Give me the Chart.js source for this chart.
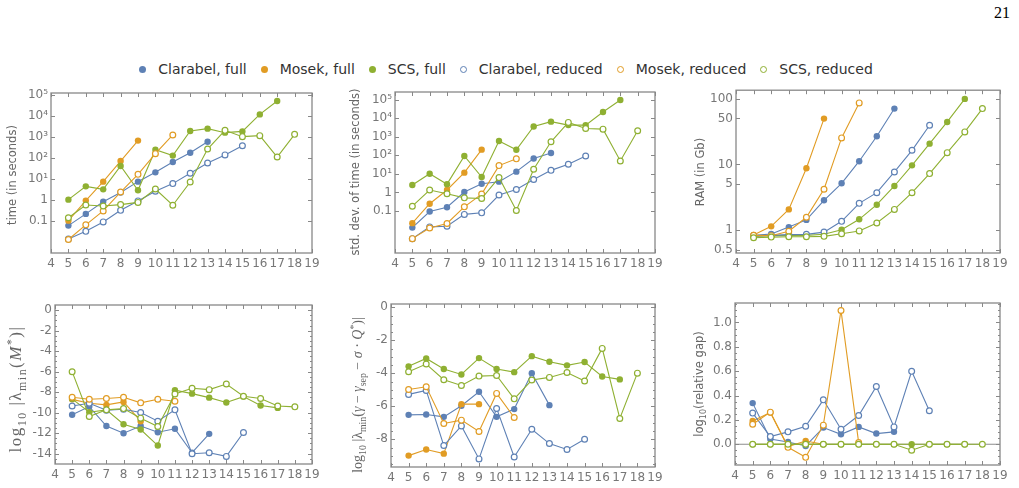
<!DOCTYPE html>
<html><head><meta charset="utf-8">
<script src="https://cdn.jsdelivr.net/npm/chart.js@4.4.0/dist/chart.umd.min.js"></script>
<style>
html,body{margin:0;padding:0;background:#fff;width:1019px;height:488px;overflow:hidden;position:relative;font-family:"DejaVu Sans",sans-serif;}
canvas{position:absolute;}
#pageno{position:absolute;left:994px;top:4px;font-family:"Liberation Serif",serif;font-size:16px;color:#000;}
#legend{position:absolute;top:60px;left:0;width:1012px;height:18px;display:flex;justify-content:center;align-items:center;font-size:14px;color:#333;white-space:nowrap;}
.item{display:flex;align-items:center;margin:0 7px;}
.dot{width:7px;height:7px;border-radius:50%;box-sizing:border-box;margin-right:12px;}
</style></head><body>
<div id="pageno">21</div>
<div id="legend"></div>
<canvas id="c1"></canvas><canvas id="c2"></canvas><canvas id="c3"></canvas>
<canvas id="c4"></canvas><canvas id="c5"></canvas><canvas id="c6"></canvas>
<script>
// ---------- categories / series ----------
const sizes = [5,6,7,8,9,10,11,12,13,14,15,16,17,18];
const seriesNames = ['Clarabel, full','Mosek, full','SCS, full','Clarabel, reduced','Mosek, reduced','SCS, reduced'];
const seriesColors = ['#5E81B5','#E19C24','#8FB032','#5E81B5','#E19C24','#8FB032'];
const seriesFilled = [true,true,true,false,false,false];
const xTicks = [4,5,6,7,8,9,10,11,12,13,14,15,16,17,18,19];

// time (in seconds)
const timeClarabelFull = [0.058,0.21,0.8,2.2,7.2,20,62,170,575];
const timeMosekFull = [0.1,0.9,7.2,69,650];
const timeScsFull = [1.0,4.3,3.1,40,2.8,240,125,1860,2400,1550,1780,11500,50000];
const timeClarabelReduced = [0.0135,0.031,0.087,0.31,0.87,2.5,5.8,18,56,135,370];
const timeMosekReduced = [0.0126,0.063,0.29,2.3,16,155,1200];
const timeScsReduced = [0.138,0.56,0.5,0.58,0.74,3.2,0.54,6.9,257,2000,1000,1120,107,1290];
const timeTicks = [0.1,1,10,100,1000,10000,100000];
const timeTickLabels = ['0.1','1','10¹','10²','10³','10⁴','10⁵'];

// std. dev. of time
const stdClarabelFull = [0.0126,0.093,0.158,1.05,2.95,3.8,13.2,68,135];
const stdMosekFull = [0.022,0.245,1.35,11.7,204];
const stdScsFull = [2.5,10.2,2.8,93,6.8,600,200,3600,6600,4300,4300,22000,98000];
const stdClarabelReduced = [0.0032,0.0138,0.0148,0.065,0.079,0.72,1.45,5.0,15.5,33,93];
const stdMosekReduced = [0.0032,0.012,0.021,0.166,0.81,28,65];
const stdScsReduced = [0.18,1.35,0.85,0.51,0.47,6.3,0.105,17.8,540,6000,2800,2600,50,2150];
const stdTicks = [0.1,1,10,100,1000,10000,100000];
const stdTickLabels = ['0.1','1','10¹','10²','10³','10⁴','10⁵'];

// RAM (in Gb)
const ramClarabelFull = [0.84,0.88,1.12,1.44,2.86,5.18,11.2,26.8,70.5];
const ramMosekFull = [0.85,1.15,2.08,8.75,49.7];
const ramScsFull = [0.81,0.83,0.84,0.84,0.87,1.02,1.47,2.45,4.71,9.7,20.7,44.2,98.9];
const ramClarabelReduced = [0.82,0.84,0.86,0.87,0.94,1.37,2.57,3.73,7.7,16.4,39.4];
const ramMosekReduced = [0.84,0.83,0.97,1.58,4.2,25.3,86];
const ramScsReduced = [0.77,0.79,0.8,0.8,0.81,0.89,0.98,1.29,2.08,3.73,7.26,15.1,31.2,70.5];
const ramTicks = [0.5,1,5,10,50,100];
const ramTickLabels = ['0.5','1','5','10','50','100'];

// log10 |lambda_min(M*)|
const eigMClarabelFull = [-10.2,-9.4,-11.3,-12.0,-11.3,-11.9,-11.57,-13.9,-12.06];
const eigMMosekFull = [-8.7,-9.08,-9.24,-8.95,-10.83];
const eigMScsFull = [-8.65,-9.95,-9.72,-11.12,-11.64,-13.2,-7.81,-8.14,-8.53,-9.0,-8.43,-9.3,-9.53];
const eigMClarabelReduced = [-9.34,-9.08,-9.76,-9.66,-9.98,-10.83,-9.72,-14.0,-13.9,-14.26,-11.93];
const eigMMosekReduced = [-8.49,-8.69,-8.62,-8.49,-9.04,-8.69,-8.88];
const eigMScsReduced = [-6.0,-10.37,-9.72,-9.6,-10.53,-11.35,-8.17,-7.62,-7.75,-7.2,-8.4,-8.62,-9.34,-9.43];
const eigMTicks = [0,-2,-4,-6,-8,-10,-12,-14];

// log10 |lambda_min(gamma - gamma_sep - sigma Q*)|
const eigQClarabelFull = [-6.52,-6.5,-6.64,-5.97,-5.12,-6.64,-6.17,-3.99,-5.93];
const eigQMosekFull = [-8.99,-8.62,-8.87,-5.87,-5.87];
const eigQScsFull = [-3.58,-3.1,-3.74,-4.07,-3.08,-3.74,-3.93,-2.96,-3.3,-3.52,-3.32,-4.19,-4.37];
const eigQClarabelReduced = [-5.28,-5.04,-8.38,-7.19,-9.19,-6.13,-9.07,-7.39,-8.26,-8.62,-8.0];
const eigQMosekReduced = [-4.98,-4.82,-7.04,-6.84,-7.53,-5.22,-6.68];
const eigQScsReduced = [-3.91,-3.44,-4.39,-4.74,-4.17,-4.13,-5.55,-4.41,-4.25,-3.95,-4.47,-2.49,-6.74,-3.99];
const eigQTicks = [0,-2,-4,-6,-8];

// log10(relative gap)
const gapClarabelFull = [0.338,0.044,0.019,-0.014,0.137,0.082,0.143,0.088,0.102];
const gapMosekFull = [0.192,0.261,-0.019,0.027,0.0];
const gapScsFull = [0,0,0,0,0,0,0,0,0,0,0,0,0];
const gapClarabelReduced = [0.256,0.063,0.102,0.148,0.365,0.124,0.236,0.475,0.143,0.599,0.275];
const gapMosekReduced = [0.165,0.264,-0.025,-0.107,0.157,1.099,0.014];
const gapScsReduced = [0,0,0,0,0,0,0,0,0,-0.049,0,0,0,0];
const gapTicks = [0,0.2,0.4,0.6,0.8,1.0];
const gapTickLabels = ['0.0','0.2','0.4','0.6','0.8','1.0'];

// ---------- legend ----------
const leg = document.getElementById('legend');
seriesNames.forEach((n,i)=>{
  const it = document.createElement('div'); it.className='item';
  const d = document.createElement('span'); d.className='dot';
  if (seriesFilled[i]) d.style.background = seriesColors[i];
  else { d.style.border = '1.5px solid '+seriesColors[i]; d.style.background='#fff'; }
  const t = document.createElement('span'); t.textContent = n;
  it.appendChild(d); it.appendChild(t); leg.appendChild(it);
});

// ---------- helpers ----------
const TICK_COLOR = '#777';
const TITLE_COLOR = '#666';
const FRAME_COLOR = '#888';
const SANS = '"DejaVu Sans", sans-serif';
const SERIF = '"Liberation Serif", serif';

function drawRich(ctx, segs, cx, cy, size, family, color, spacing) {
  ctx.save();
  ctx.translate(cx, cy); ctx.rotate(-Math.PI/2);
  if (spacing) ctx.letterSpacing = spacing + 'px';
  let total = 0;
  const items = segs.map(s=>{
    const small = s.p==='sub' || s.p==='sup';
    const sz = small ? size*0.7 : size;
    const font = (s.i?'italic ':'') + sz + 'px ' + family;
    ctx.font = font;
    const w = ctx.measureText(s.t).width;
    total += w;
    return {t:s.t, font, w, dy: s.p==='sub' ? size*0.28 : (s.p==='sup' ? -size*0.38 : 0)};
  });
  let x = -total/2;
  ctx.fillStyle = color; ctx.textBaseline='alphabetic'; ctx.textAlign='left';
  items.forEach(it=>{ ctx.font = it.font; ctx.fillText(it.t, x, size*0.36 + it.dy); x += it.w; });
  ctx.restore();
}

const panelPlugin = {
  id:'panelDeco',
  beforeDatasetsDraw(chart){
    const o = chart.options.plugins.panelDeco;
    if (o.zeroLine) {
      const {ctx, chartArea:a} = chart; const y = chart.scales.y.getPixelForValue(0);
      ctx.save(); ctx.strokeStyle='#8c8c8c'; ctx.lineWidth=1.1;
      ctx.beginPath(); ctx.moveTo(a.left,y); ctx.lineTo(a.right,y); ctx.stroke(); ctx.restore();
    }
  },
  afterDraw(chart){
    const o = chart.options.plugins.panelDeco;
    const {ctx, chartArea:a} = chart;
    const xs = chart.scales.x, ys = chart.scales.y;
    ctx.save();
    ctx.strokeStyle = FRAME_COLOR; ctx.lineWidth = 1.3;
    ctx.strokeRect(a.left, a.top, a.right-a.left, a.bottom-a.top);
    ctx.lineWidth = 1;
    ctx.beginPath();
    xTicks.forEach(v=>{ const x = Math.round(xs.getPixelForValue(v))+0.5;
      ctx.moveTo(x, a.bottom); ctx.lineTo(x, a.bottom-4);
      ctx.moveTo(x, a.top); ctx.lineTo(x, a.top+4); });
    o.major.forEach(v=>{ const y = Math.round(ys.getPixelForValue(v))+0.5;
      ctx.moveTo(a.left, y); ctx.lineTo(a.left+4, y);
      ctx.moveTo(a.right, y); ctx.lineTo(a.right-4, y); });
    (o.minor||[]).forEach(v=>{ const y = Math.round(ys.getPixelForValue(v))+0.5;
      if (y<a.top+1||y>a.bottom-1) return;
      ctx.moveTo(a.left, y); ctx.lineTo(a.left+2, y);
      ctx.moveTo(a.right, y); ctx.lineTo(a.right-2, y); });
    ctx.stroke();
    ctx.restore();
    const b = o.box;
    drawRich(ctx, o.title, o.titleX - b.x, o.titleY - b.y, o.titleSize, o.titleFamily, TITLE_COLOR, o.titleSpacing);
  }
};

function makePanel(id, box, plot, ycfg, series, deco) {
  const cv = document.getElementById(id);
  cv.width = box.w; cv.height = box.h;
  cv.style.left = box.x+'px'; cv.style.top = box.y+'px';
  cv.style.width = box.w+'px'; cv.style.height = box.h+'px';
  const datasets = series.map((vals,i)=>({
    label: seriesNames[i],
    data: vals.map((v,j)=>({x:sizes[j], y:v})),
    borderColor: seriesColors[i],
    backgroundColor: seriesFilled[i] ? seriesColors[i] : '#fff',
    pointBackgroundColor: seriesFilled[i] ? seriesColors[i] : '#fff',
    pointBorderColor: seriesColors[i],
    pointBorderWidth: seriesFilled[i] ? 0 : 1.2,
    pointRadius: seriesFilled[i] ? 3.2 : 2.9,
    borderWidth: 1.1,
    tension: 0, fill: false, order: 10 - i
  }));
  const yScale = Object.assign({
    min: ycfg.min, max: ycfg.max,
    afterBuildTicks: s => { s.ticks = ycfg.ticks.map(v=>({value:v})); },
    afterFit: s => { s.width = plot.l - box.x; },
    grid:{display:false, drawTicks:false}, border:{display:false},
    ticks:{color:TICK_COLOR, font:{family:SANS, size:12}, padding:3, autoSkip:false,
      callback: (v)=>{ const k = ycfg.ticks.indexOf(v); return ycfg.labels ? ycfg.labels[k] : String(v); }}
  }, {type: ycfg.type});
  new Chart(cv, {
    type:'line',
    data:{datasets},
    options:{
      responsive:false, animation:false, devicePixelRatio:1,
      layout:{padding:{top: plot.t - box.y, right: box.x + box.w - plot.r, left:0, bottom:0}},
      plugins:{legend:{display:false}, tooltip:{enabled:false}, panelDeco: Object.assign({box}, deco)},
      scales:{
        x:{type:'linear', min:4, max:19,
          afterBuildTicks: s => { s.ticks = xTicks.map(v=>({value:v})); },
          afterFit: s => { s.height = box.y + box.h - plot.b; },
          grid:{display:false, drawTicks:false}, border:{display:false},
          ticks:{color:TICK_COLOR, font:{family:SANS, size:12}, padding:4, autoSkip:false, maxRotation:0, callback:v=>String(v)}},
        y: yScale
      }
    },
    plugins:[panelPlugin]
  });
}

const halfTicks = (lo, hi) => { const r=[]; for (let v=lo; v<=hi+1e-9; v+=0.5) r.push(v); return r; };

makePanel('c1', {x:0,y:80,w:338,h:200}, {l:51,r:312,t:93,b:253},
  {type:'logarithmic', min:0.00288, max:120000, ticks:timeTicks, labels:timeTickLabels},
  [timeClarabelFull,timeMosekFull,timeScsFull,timeClarabelReduced,timeMosekReduced,timeScsReduced],
  {major:timeTicks, title:[{t:'time (in seconds)'}], titleX:12, titleY:175, titleSize:11.5, titleFamily:SANS});

makePanel('c2', {x:340,y:80,w:338,h:200}, {l:395,r:655,t:92,b:253},
  {type:'logarithmic', min:0.000537, max:263000, ticks:stdTicks, labels:stdTickLabels},
  [stdClarabelFull,stdMosekFull,stdScsFull,stdClarabelReduced,stdMosekReduced,stdScsReduced],
  {major:stdTicks, title:[{t:'std. dev. of time (in seconds)'}], titleX:355, titleY:172, titleSize:11.5, titleFamily:SANS});

makePanel('c3', {x:680,y:80,w:339,h:200}, {l:736,r:1000,t:90,b:253},
  {type:'logarithmic', min:0.453, max:134, ticks:ramTicks, labels:ramTickLabels},
  [ramClarabelFull,ramMosekFull,ramScsFull,ramClarabelReduced,ramMosekReduced,ramScsReduced],
  {major:ramTicks, title:[{t:'RAM (in Gb)'}], titleX:700, titleY:172, titleSize:11.5, titleFamily:SANS});

makePanel('c4', {x:0,y:290,w:338,h:198}, {l:55,r:312,t:305,b:464},
  {type:'linear', min:-15, max:0.5, ticks:eigMTicks},
  [eigMClarabelFull,eigMMosekFull,eigMScsFull,eigMClarabelReduced,eigMMosekReduced,eigMScsReduced],
  {major:eigMTicks, minor:halfTicks(-15,0.5), title:[{t:'log'},{t:'10',p:'sub'},{t:' |λ'},{t:'min',p:'sub'},{t:'('},{t:'M',i:1},{t:'*',p:'sup'},{t:')|'}],
   titleX:15, titleY:389, titleSize:17, titleFamily:SERIF, titleSpacing:1.5});

makePanel('c5', {x:340,y:290,w:338,h:198}, {l:391,r:655,t:304,b:467},
  {type:'linear', min:-9.68, max:0.2, ticks:eigQTicks},
  [eigQClarabelFull,eigQMosekFull,eigQScsFull,eigQClarabelReduced,eigQMosekReduced,eigQScsReduced],
  {major:eigQTicks, minor:halfTicks(-9.5,0), title:[{t:'log'},{t:'10',p:'sub'},{t:' |λ'},{t:'min',p:'sub'},{t:'('},{t:'γ',i:1},{t:' − '},{t:'γ',i:1},{t:'sep',p:'sub'},{t:' − '},{t:'σ',i:1},{t:' · '},{t:'Q',i:1},{t:'*',p:'sup'},{t:')|'}],
   titleX:357, titleY:395, titleSize:14, titleFamily:SERIF});

makePanel('c6', {x:680,y:290,w:339,h:198}, {l:735,r:1000,t:303,b:465},
  {type:'linear', min:-0.17, max:1.16, ticks:gapTicks, labels:gapTickLabels},
  [gapClarabelFull,gapMosekFull,gapScsFull,gapClarabelReduced,gapMosekReduced,gapScsReduced],
  {major:gapTicks, minor:[-0.15,-0.1,-0.05,0.05,0.1,0.15,0.25,0.3,0.35,0.45,0.5,0.55,0.65,0.7,0.75,0.85,0.9,0.95,1.05,1.1,1.15], zeroLine:true,
   title:[{t:'log'},{t:'10',p:'sub'},{t:'(relative gap)'}], titleX:699, titleY:384, titleSize:11.5, titleFamily:SANS});
</script>
</body></html>
